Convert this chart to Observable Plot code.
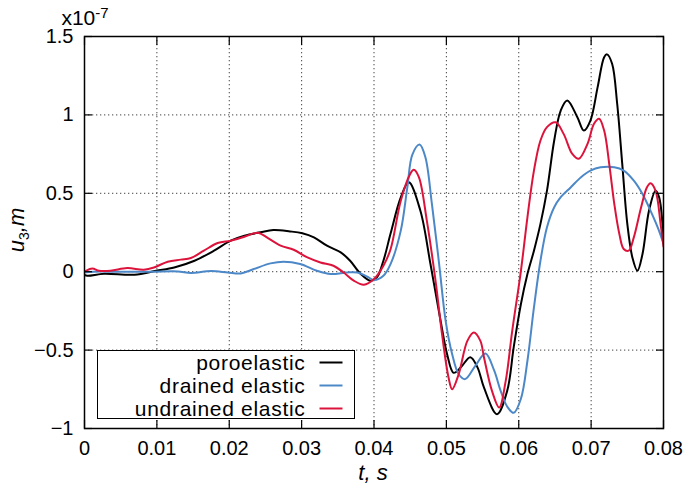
<!DOCTYPE html>
<html>
<head>
<meta charset="utf-8">
<script src="https://cdn.jsdelivr.net/npm/d3@7"></script>
<script src="https://cdn.jsdelivr.net/npm/@observablehq/plot@0.6"></script>
<style>
  body { margin: 0; background: #fff; }
  #chart { width: 691px; height: 494px; }
</style>
</head>
<body>
<div id="chart"></div>
<script>
// ---- data (t in seconds, u3 in units of 1e-7 m) ----
const seriesNames = ["poroelastic", "drained elastic", "undrained elastic"];
const seriesColors = ["#000000", "#4c88c8", "#dc143c"];

const poroelastic = [
  [0, -0.02], [0.0004, -0.026], [0.0027, -0.013], [0.0069, -0.019], [0.0099, 0.006],
  [0.0124, 0.027], [0.0152, 0.07], [0.0179, 0.134], [0.0202, 0.198], [0.0221, 0.23],
  [0.0243, 0.251], [0.0261, 0.266], [0.0284, 0.257], [0.0301, 0.245], [0.0317, 0.219],
  [0.0335, 0.166], [0.0354, 0.123], [0.0367, 0.07], [0.0381, -0.011], [0.0395, -0.057],
  [0.0404, -0.036], [0.0413, 0.07], [0.0423, 0.245], [0.0437, 0.474], [0.0448, 0.57],
  [0.0464, 0.39], [0.0478, 0.049], [0.0492, -0.313], [0.0501, -0.526], [0.0510, -0.645],
  [0.0520, -0.61], [0.0533, -0.545], [0.0543, -0.61], [0.0552, -0.74], [0.0570, -0.909],
  [0.0584, -0.76], [0.0593, -0.483], [0.0603, -0.206], [0.0612, -0.015], [0.0621, 0.134],
  [0.0630, 0.305], [0.0639, 0.517], [0.0649, 0.837], [0.0658, 1.028], [0.0667, 1.092],
  [0.0681, 0.985], [0.0690, 0.9], [0.0699, 0.964], [0.0709, 1.177], [0.0718, 1.368],
  [0.0722, 1.386], [0.0729, 1.326], [0.0736, 1.071], [0.0743, 0.688], [0.0750, 0.305],
  [0.0757, 0.091], [0.0764, 0.006], [0.0771, 0.113], [0.0780, 0.39], [0.0789, 0.517],
  [0.0794, 0.474], [0.0800, 0.2]
];

const drainedElastic = [
  [0, -0.005], [0.0013, 0], [0.0046, 0], [0.0092, 0], [0.0129, 0.002], [0.0147, -0.008],
  [0.0175, 0.004], [0.0198, -0.005], [0.0216, -0.011], [0.0234, 0.017], [0.0257, 0.053],
  [0.0275, 0.064], [0.0298, 0.049], [0.0321, 0.006], [0.0340, -0.015], [0.0363, -0.005],
  [0.0377, -0.005], [0.0391, -0.032], [0.0400, -0.053], [0.0413, -0.026], [0.0423, 0.05],
  [0.0437, 0.262], [0.0446, 0.536], [0.0453, 0.747], [0.0463, 0.811], [0.0471, 0.73],
  [0.0480, 0.432], [0.0490, 0.049], [0.0499, -0.313], [0.0508, -0.526], [0.0517, -0.654],
  [0.0526, -0.685], [0.0540, -0.6], [0.0554, -0.522], [0.0566, -0.63], [0.0575, -0.76],
  [0.0584, -0.86], [0.0593, -0.9], [0.0603, -0.81], [0.0612, -0.568], [0.0621, -0.228],
  [0.0630, 0.07], [0.0639, 0.283], [0.0649, 0.411], [0.0658, 0.475], [0.0672, 0.539],
  [0.0686, 0.603], [0.0699, 0.645], [0.0713, 0.666], [0.0732, 0.666], [0.0745, 0.645],
  [0.0759, 0.581], [0.0771, 0.496], [0.0782, 0.39], [0.0792, 0.283], [0.0800, 0.18]
];

const undrainedElastic = [
  [0.0002, 0.006], [0.0011, 0.021], [0.0020, 0.006], [0.0036, 0.006], [0.0059, 0.023],
  [0.0082, 0.013], [0.0096, 0.027], [0.0115, 0.064], [0.0133, 0.077], [0.0147, 0.087],
  [0.0165, 0.134], [0.0184, 0.183], [0.0202, 0.198], [0.0221, 0.223], [0.0234, 0.245],
  [0.0241, 0.247], [0.0252, 0.219], [0.0271, 0.166], [0.0289, 0.14], [0.0308, 0.091],
  [0.0326, 0.059], [0.0344, 0.038], [0.0358, -0.005], [0.0372, -0.057], [0.0386, -0.083],
  [0.0400, -0.047], [0.0413, 0.038], [0.0423, 0.145], [0.0437, 0.453], [0.0450, 0.623],
  [0.0455, 0.65], [0.0462, 0.603], [0.0473, 0.326], [0.0485, -0.057], [0.0494, -0.398],
  [0.0503, -0.675], [0.0508, -0.75], [0.0517, -0.654], [0.0529, -0.441], [0.0538, -0.388],
  [0.0547, -0.441], [0.0552, -0.547], [0.0563, -0.76], [0.0573, -0.866], [0.0582, -0.696],
  [0.0591, -0.377], [0.0603, 0.006], [0.0612, 0.347], [0.0621, 0.645], [0.0630, 0.837],
  [0.0639, 0.922], [0.0651, 0.953], [0.0662, 0.879], [0.0674, 0.751], [0.0683, 0.72],
  [0.0695, 0.815], [0.0704, 0.943], [0.0711, 0.975], [0.0718, 0.9], [0.0725, 0.688],
  [0.0732, 0.433], [0.0739, 0.241], [0.0745, 0.145], [0.0752, 0.134], [0.0759, 0.219],
  [0.0769, 0.41], [0.0777, 0.537], [0.0782, 0.564], [0.0789, 0.517], [0.0796, 0.304],
  [0.0800, 0.16]
];

const xTicks = [0, 0.01, 0.02, 0.03, 0.04, 0.05, 0.06, 0.07, 0.08];
const xTickLabels = ["0", "0.01", "0.02", "0.03", "0.04", "0.05", "0.06", "0.07", "0.08"];
const yTicks = [-1, -0.5, 0, 0.5, 1, 1.5];
const yTickLabels = ["\u22121", "\u22120.5", "0", "0.5", "1", "1.5"];

// ---- build table ----
const seriesData = [poroelastic, drainedElastic, undrainedElastic];
const rows = seriesData.flatMap((arr, i) => arr.map(([t, u]) => ({series: seriesNames[i], t, u})));
const xLabelMap = new Map(xTicks.map((d, i) => [d, xTickLabels[i]]));
const yLabelMap = new Map(yTicks.map((d, i) => [d, yTickLabels[i]]));

const FONT = "'Liberation Sans', Arial, Helvetica, sans-serif";
const gridStyle = {stroke: "#444", strokeOpacity: 1, strokeWidth: 1, strokeDasharray: "1.3,2.7"};

const plot = Plot.plot({
  width: 691,
  height: 494,
  marginLeft: 84,
  marginRight: 28,
  marginTop: 36,
  marginBottom: 66,
  style: {fontFamily: FONT, fontSize: "20px", background: "#fff", color: "#000"},
  x: {domain: [0, 0.08]},
  y: {domain: [-1, 1.5]},
  color: {domain: seriesNames, range: seriesColors},
  marks: [
    Plot.gridX(xTicks.slice(1, -1), gridStyle),
    Plot.gridY(yTicks.slice(1, -1), gridStyle),
    Plot.line(rows, {x: "t", y: "u", z: "series", stroke: "series", curve: "catmull-rom", strokeWidth: 2, clip: true}),
    Plot.axisX(xTicks, {anchor: "bottom", tickSize: -8, tickPadding: 20, tickFormat: d => xLabelMap.get(d), label: null, strokeWidth: 1.2}),
    Plot.axisX(xTicks, {anchor: "top", tickSize: -8, fill: "none", label: null, strokeWidth: 1.2}),
    Plot.axisY(yTicks, {anchor: "left", tickSize: -8, tickPadding: 19, tickFormat: d => yLabelMap.get(d), label: null, strokeWidth: 1.2}),
    Plot.axisY(yTicks, {anchor: "right", tickSize: -8, fill: "none", label: null, strokeWidth: 1.2}),
    Plot.frame({stroke: "#000", strokeWidth: 1.5})
  ]
});

const svg = d3.select(plot);

// exponent label
const ex = svg.append("text").attr("x", 85).attr("y", 25)
  .style("font-family", FONT).style("font-size", "21px").attr("fill", "#000");
ex.append("tspan").text("x10");
ex.append("tspan").attr("dy", -7).style("font-size", "15px").text("-7");

// x label
const xl = svg.append("text").attr("x", 373).attr("y", 480).attr("text-anchor", "middle")
  .style("font-family", FONT).style("font-size", "22px").style("font-style", "italic").attr("fill", "#000");
xl.text("t, s");

// y label
const yl = svg.append("text").attr("transform", "translate(24,230) rotate(-90)").attr("text-anchor", "middle")
  .style("font-family", FONT).style("font-size", "22px").style("font-style", "italic").attr("fill", "#000");
yl.append("tspan").text("u");
yl.append("tspan").attr("dy", 5).style("font-size", "14px").style("font-style", "normal").text("3");
yl.append("tspan").attr("dy", -5).text(",m");

// legend
const lg = svg.append("g").attr("transform", "translate(97.5,350.5)");
lg.append("rect").attr("width", 257).attr("height", 68).attr("fill", "#fff").attr("stroke", "#000").attr("stroke-width", 1);
seriesNames.forEach((name, i) => {
  const cy = 12 + i * 23;
  lg.append("text").attr("x", 208).attr("y", cy).attr("dy", "0.35em").attr("text-anchor", "end")
    .style("font-family", FONT).style("font-size", "21px").style("letter-spacing", "0.7px").attr("fill", "#000").text(name);
  lg.append("line").attr("x1", 222).attr("x2", 245).attr("y1", cy).attr("y2", cy)
    .attr("stroke", seriesColors[i]).attr("stroke-width", 2);
});

document.getElementById("chart").appendChild(plot);
</script>
</body>
</html>
